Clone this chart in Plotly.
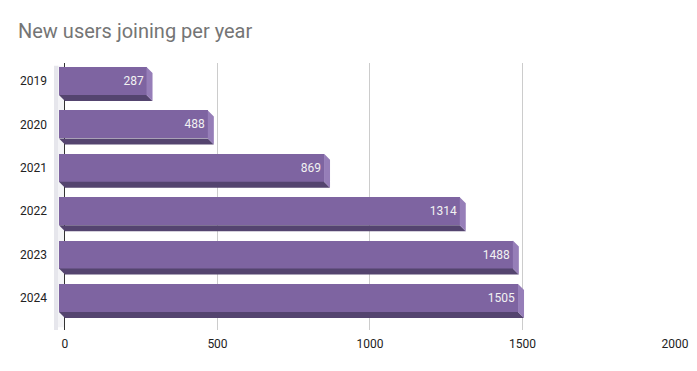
import plotly.graph_objects as go

years = ["2019", "2020", "2021", "2022", "2023", "2024"]
users = [287, 488, 869, 1314, 1488, 1505]
x_ticks = [0, 500, 1000, 1500, 2000]

# style constants (page body has an 8px margin on every side)
OFF = 8
W, H = 697 - 2 * OFF, 371 - 2 * OFF
ML, MR, MT, MB = 53.5 - OFF, 14, 63 - OFF, 41 - OFF
X_RANGE = [-36, 2000]
Y_RANGE = [5.737, -0.415]
plot_w = W - ML - MR
plot_h = H - MT - MB
px_x = plot_w / (X_RANGE[1] - X_RANGE[0])
px_y = plot_h / (Y_RANGE[0] - Y_RANGE[1])
DEPTH_PX = 6
dx = DEPTH_PX / px_x
dy = DEPTH_PX / px_y
BAR_W = 28 / px_y
h = BAR_W / 2

FRONT = "rgb(126,100,161)"
BOTTOM = "rgb(84,68,111)"
SIDE = "rgb(150,126,184)"

idx = list(range(len(years)))

# 3D faces built from data values
bx, by, sx, sy = [], [], [], []
for i, v in zip(idx, users):
    bx += [-dx, v - dx, v, 0, -dx, None]
    by += [i + h, i + h, i + h + dy, i + h + dy, i + h, None]
    sx += [v - dx, v, v, v - dx, v - dx, None]
    sy += [i - h, i - h + dy, i + h + dy, i + h, i - h, None]

fig = go.Figure()
fig.add_trace(go.Scatter(x=bx, y=by, fill="toself", fillcolor=BOTTOM, mode="lines",
                         line=dict(width=0), hoverinfo="skip", showlegend=False))
fig.add_trace(go.Scatter(x=sx, y=sy, fill="toself", fillcolor=SIDE, mode="lines",
                         line=dict(width=0), hoverinfo="skip", showlegend=False))
fig.add_trace(go.Bar(
    y=idx, x=users, base=[-dx] * len(users), orientation="h", width=BAR_W,
    marker=dict(color=FRONT, line=dict(width=0)),
    text=[str(v) for v in users], textposition="inside", insidetextanchor="end",
    textfont=dict(family="Roboto", size=12, color="#f2f2f2"),
    showlegend=False,
))

# left wall
fig.add_shape(type="rect", xref="x", yref="paper", x0=X_RANGE[0], x1=X_RANGE[0] + 4 / px_x,
              y0=0.0, y1=0.99, fillcolor="#e6e6ec", line=dict(width=0), layer="below")
fig.add_shape(type="rect", xref="x", yref="paper", x0=X_RANGE[0] + 4 / px_x, x1=0,
              y0=0.01, y1=0.99, fillcolor="#f3f3f6", line=dict(width=0), layer="below")

fig.update_layout(
    width=W, height=H,
    margin=dict(l=ML, r=MR, t=MT, b=MB, pad=0, autoexpand=False),
    paper_bgcolor="white", plot_bgcolor="white",
    title=dict(text="New users joining per year", x=(18 - OFF) / W, xanchor="left",
               y=1 - (31 - OFF) / H, yanchor="middle",
               font=dict(family="Roboto", size=20, color="#757575")),
    font=dict(family="Roboto", size=12, color="#222222"),
    xaxis=dict(range=X_RANGE, tickvals=x_ticks, ticktext=[str(t) for t in x_ticks],
               showgrid=True, gridcolor="#cccccc", gridwidth=1,
               zeroline=True, zerolinecolor="#333333", zerolinewidth=1,
               showline=False, ticks="", ticklabelstandoff=5,
               ticklabeloverflow="allow", automargin=False,
               tickfont=dict(family="Roboto", size=12, color="#222222")),
    yaxis=dict(range=Y_RANGE, tickvals=idx, ticktext=years, showgrid=False,
               zeroline=False, showline=False, ticks="", ticklabelstandoff=6,
               automargin=False,
               tickfont=dict(family="Roboto", size=12, color="#222222")),
    bargap=0,
)

fig.write_html("out.html")
